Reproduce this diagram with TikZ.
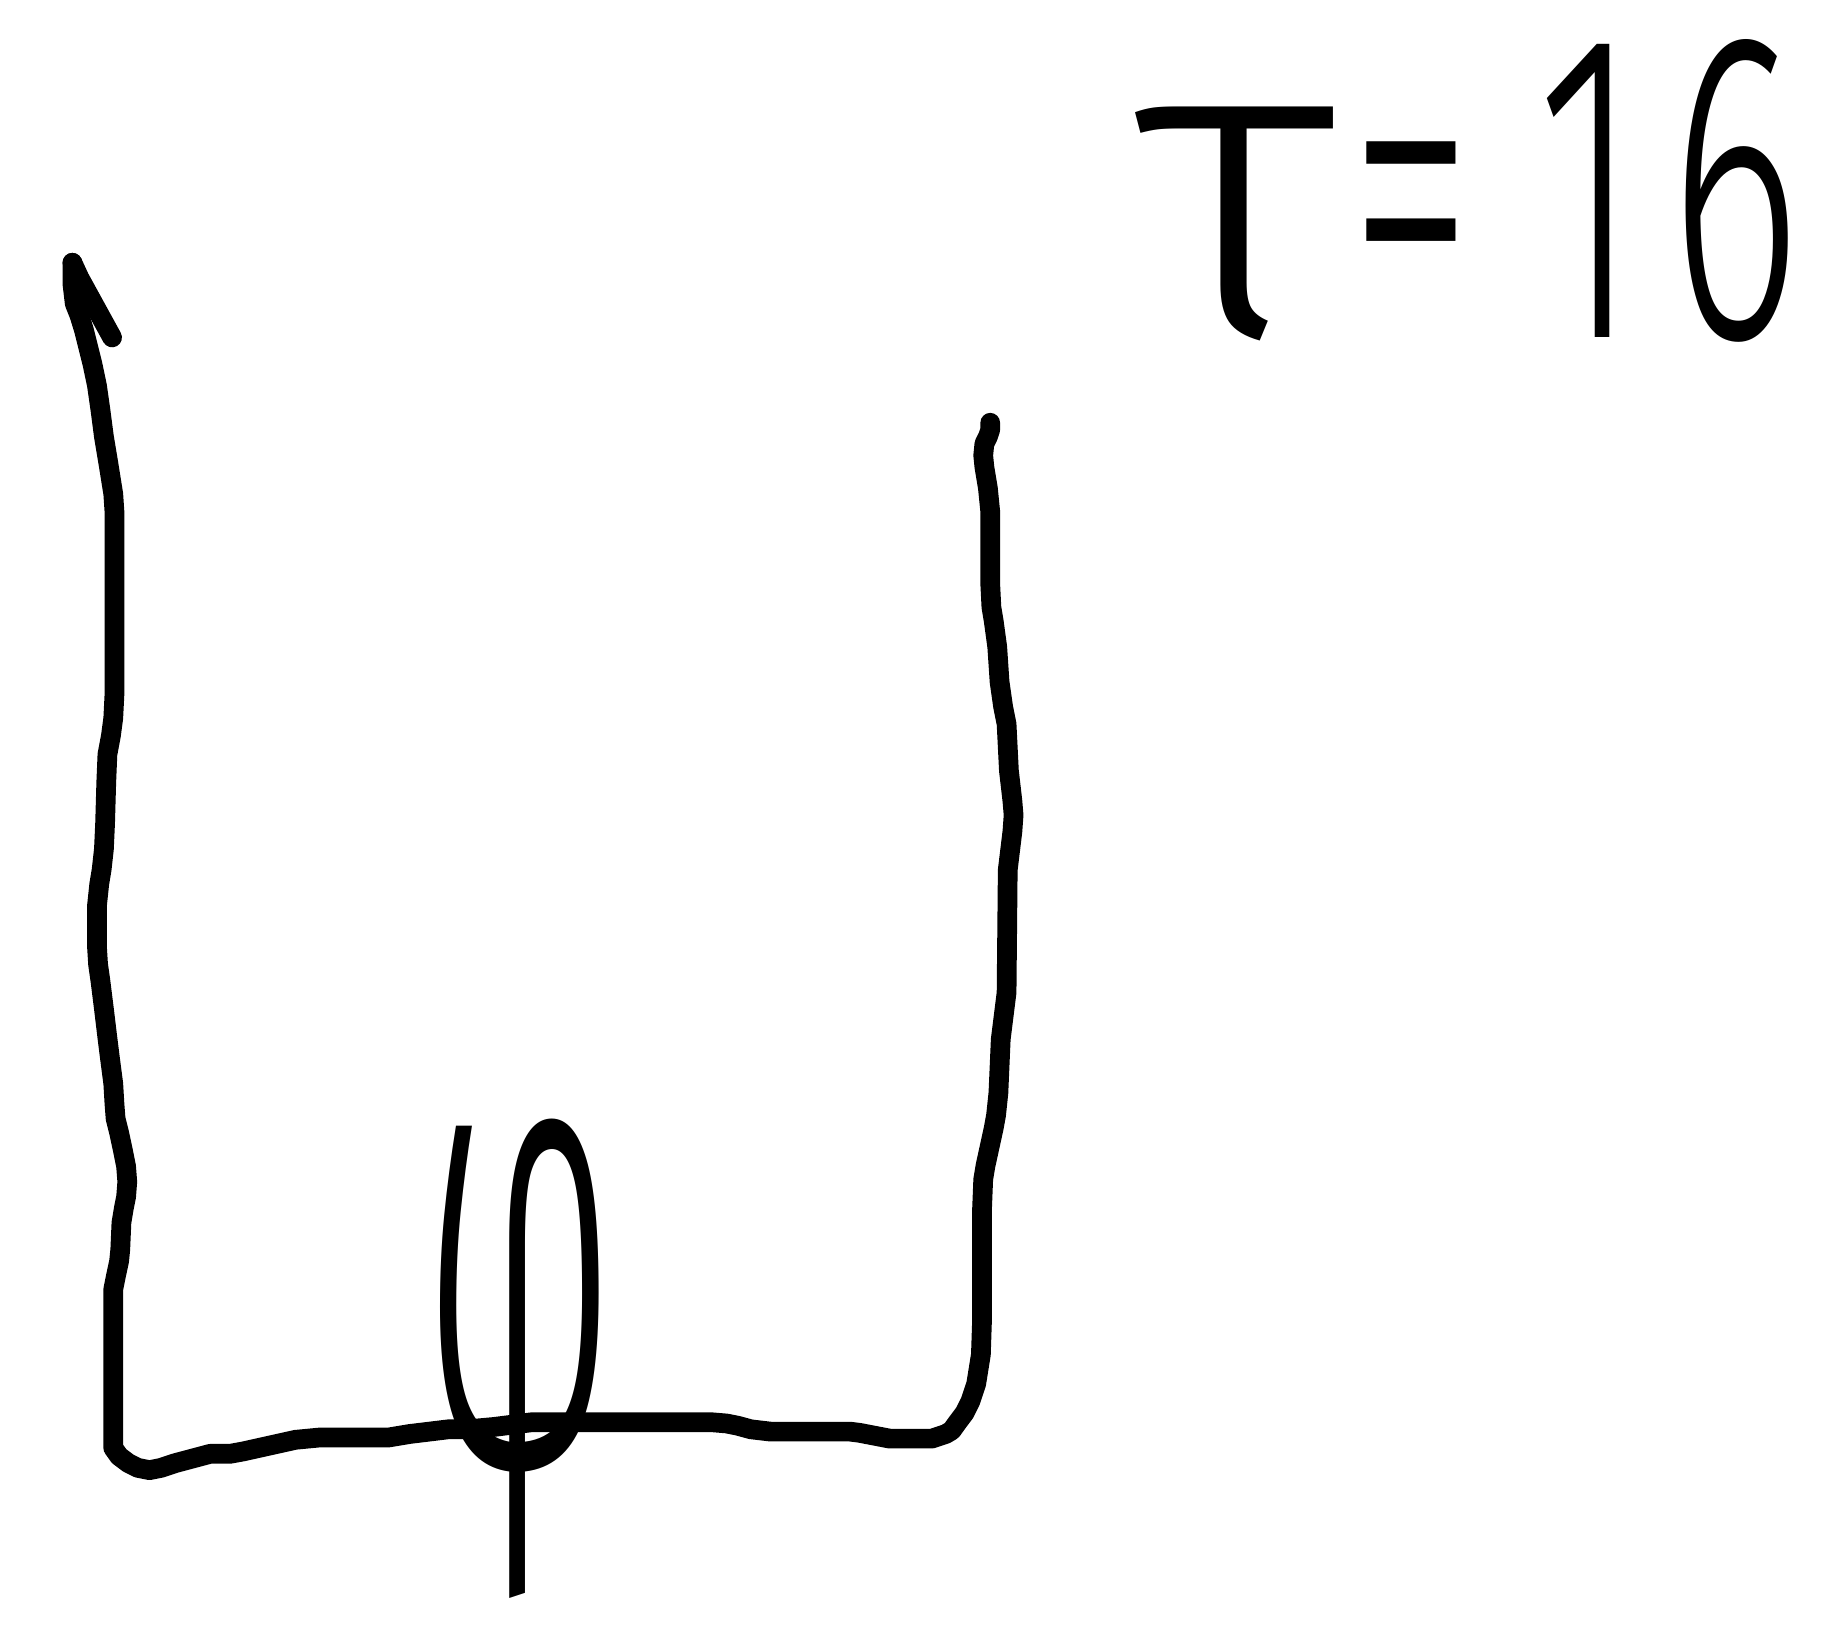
\documentclass[tikz,border=0pt]{standalone}
\usepackage{fontspec}
\newfontfamily\handfont{Fira Sans Light}
\usetikzlibrary{positioning}

\begin{document}
\begin{tikzpicture}[x=0.01cm,y=-0.01cm,
  ink/.style={line width=4.8pt,line cap=round,line join=round},
  hand/.style={inner sep=0pt,outer sep=0pt,font=\handfont}]
\useasboundingbox (0,0) rectangle (1568,1394);
% curve with arrow at top left
\draw[ink] (62,225)--(62,243)--(64,260)--(68,270)--(72,283)--(79,311)--(83,330)--(86,351)
  --(89,374)--(93,398)--(97,423)--(98,438)--(98,595)--(97,615)--(95,630)--(92,646)--(91,670)
  --(90,705)--(89,727)--(87,745)--(85,757)--(83,776)--(83,810)--(84,826)--(86,840)--(89,864)
  --(92,889)--(94,905)--(97,928)--(98,945)--(99,958)--(102,970)--(105,984)--(108,999)
  --(109,1012)--(108,1025)--(106,1035)--(104,1047)--(103,1070)--(102,1080)--(99,1094)
  --(97,1104)--(97,1240)--(102,1247)--(110,1253)--(118,1257)--(128,1259)--(138,1257)
  --(150,1253)--(180,1245)--(197,1245)--(208,1243)--(253,1233)--(274,1231)--(333,1231)
  --(351,1228)--(384,1224)--(401,1224)--(423,1222)--(455,1218)--(610,1218)--(622,1219)
  --(632,1221)--(643,1224)--(660,1226)--(728,1226)--(736,1227)--(762,1232)--(798,1232)
  --(810,1228)--(815,1225)--(820,1218)--(826,1210)--(831,1200)--(836,1185)--(840,1160)
  --(841,1130)--(841,1035)--(842,1010)--(844,998)--(851,966)--(853,955)--(855,936)
  --(857,890)--(862,850)--(863,745)--(867,712)--(868,698)--(867,686)--(864,660)--(862,620)
  --(859,605)--(856,584)--(854,554)--(851,532)--(849,520)--(848,500)--(848,438)--(846,418)
  --(843,400)--(842,390)--(843,380)--(846,374)--(848,368)--(848,362);
\draw[ink] (62,225)--(68,238)--(96,289);
% labels
\node[hand,anchor=north] (phi) at (444,958) {\resizebox*{1.7cm}{4.1cm}{φ}};
\node[hand,anchor=north west] (tau) at (972,34)
  {\resizebox{5.7cm}{2.55cm}{\scalebox{1.8}[1]{τ}\kern0.05em=\kern0.25em1\kern0.12em6}};
\end{tikzpicture}
\end{document}
